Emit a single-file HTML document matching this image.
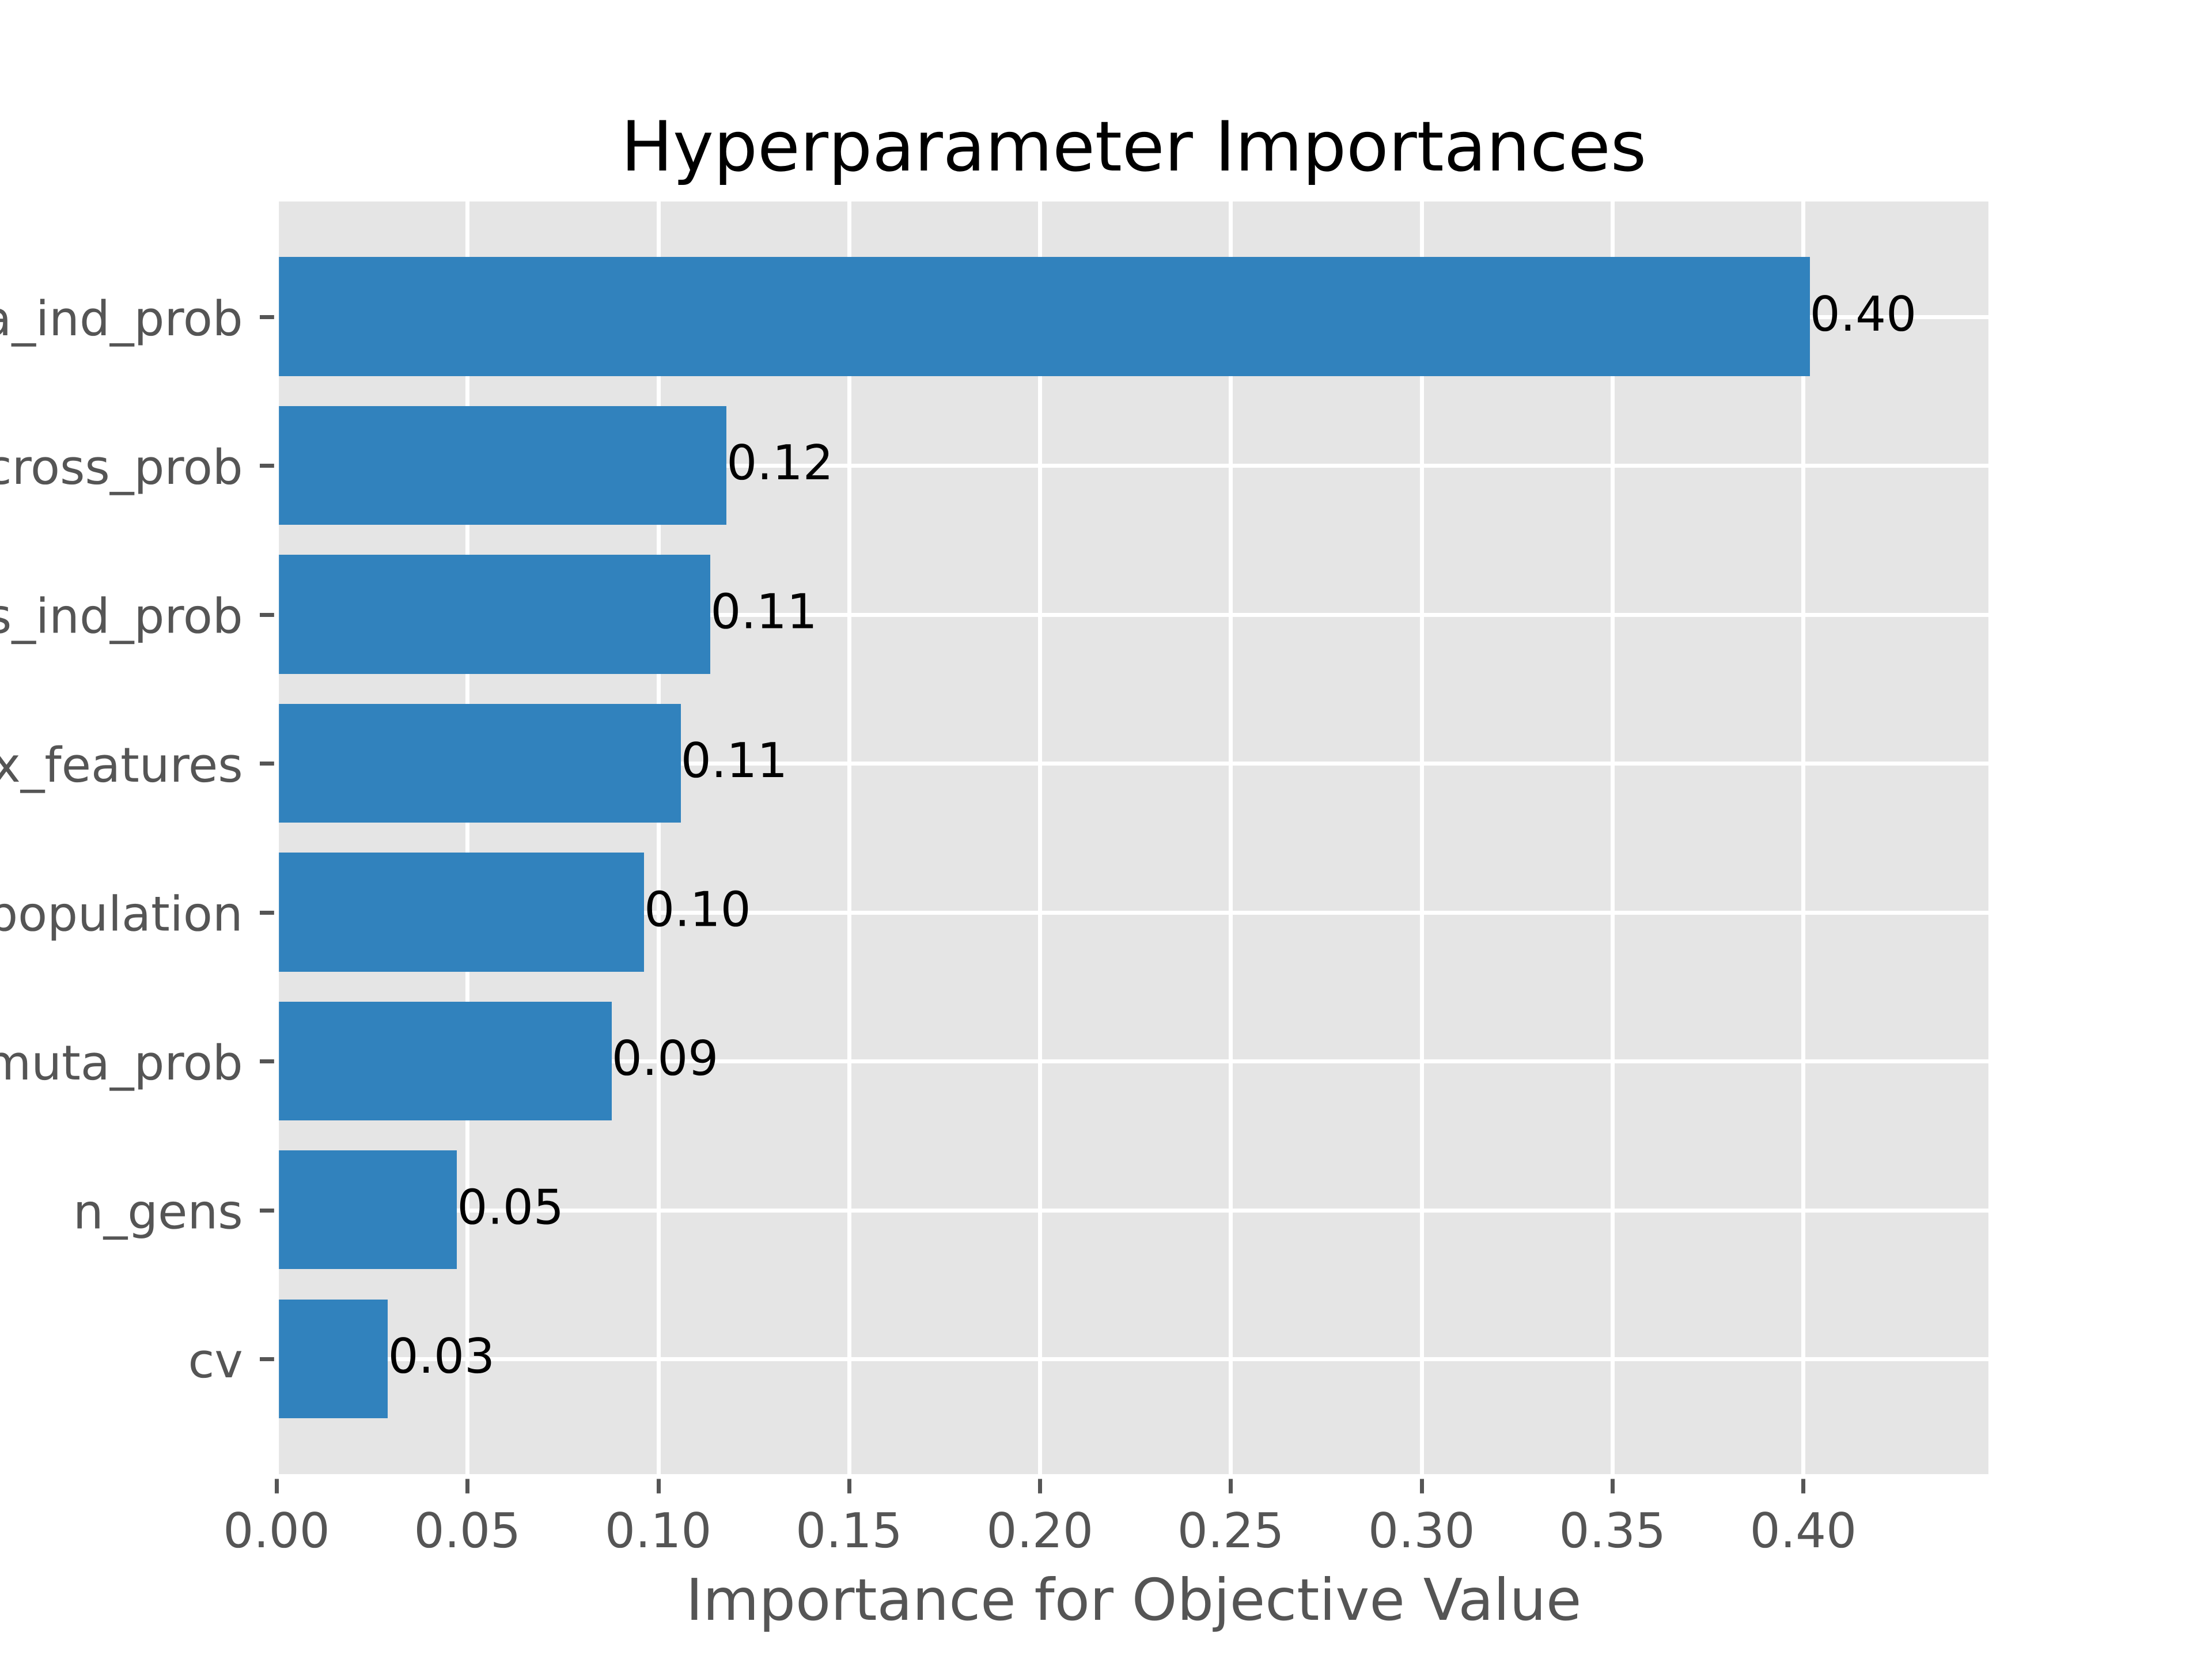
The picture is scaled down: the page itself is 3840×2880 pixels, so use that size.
<!DOCTYPE html>
<html lang="en">
<head>
<meta charset="utf-8">
<title>Hyperparameter Importances</title>
<style>
html,body{margin:0;padding:0;background:#fff;width:3840px;height:2880px;overflow:hidden}
svg{display:block}
text{font-family:"DejaVu Sans","Liberation Sans",sans-serif;text-rendering:geometricPrecision}
</style>
</head>
<body>
<svg id="chart" xmlns="http://www.w3.org/2000/svg" width="3840" height="2880" viewBox="0 0 3840 2880">
  <rect x="0" y="0" width="3840" height="2880" fill="#ffffff"></rect>
  <rect x="480" y="345.6" width="2976" height="2217.6" fill="#E5E5E5"></rect>
  <g id="grid"></g>
  <g id="bars"></g>
  <g id="ticks"></g>
  <g id="spines" fill="none" stroke="#ffffff" stroke-width="8.33">
    <rect x="480" y="345.6" width="2976" height="2217.6"></rect>
  </g>
  <g id="xlabels"></g>
  <g id="ylabels"></g>
  <g id="values"></g>
  <text x="1968" y="296" font-size="120" fill="#000000" text-anchor="middle" letter-spacing="-0.08">Hyperparameter Importances</text>
  <text x="1968" y="2812" font-size="100" fill="#555555" text-anchor="middle">Importance for Objective Value</text>
</svg>
<script>
const categories = ["cv", "n_gens", "muta_prob", "n_population", "max_features", "cross_ind_prob", "cross_prob", "muta_ind_prob"];
const importances = [0.0292, 0.0473, 0.0878, 0.0963, 0.1059, 0.1137, 0.1179, 0.4017];
const valueLabels = ["0.03", "0.05", "0.09", "0.10", "0.11", "0.11", "0.12", "0.40"];
const xTicks = [0, 0.05, 0.10, 0.15, 0.20, 0.25, 0.30, 0.35, 0.40];
const xTickLabels = ["0.00", "0.05", "0.10", "0.15", "0.20", "0.25", "0.30", "0.35", "0.40"];

const NS = "http://www.w3.org/2000/svg";
const plotLeft = 480, plotRight = 3456, plotTop = 345.6, plotBottom = 2563.2;
const xMax = 0.44914;
const barHeight = 0.8;
const yPad = 0.79;
const unit = (plotBottom - plotTop) / (categories.length - 1 + 2 * yPad);
function xScale(v) { return plotLeft + v / xMax * (plotRight - plotLeft); }
function yScale(i) { return plotBottom - (i + yPad) * unit; }
function snap(p) { return Math.round(p) + 0.5; }

function make(tag, attrs, parent) {
  const el = document.createElementNS(NS, tag);
  for (const k in attrs) el.setAttribute(k, attrs[k]);
  parent.appendChild(el);
  return el;
}
const gridG = document.getElementById("grid");
const barsG = document.getElementById("bars");
const ticksG = document.getElementById("ticks");
const xlabelsG = document.getElementById("xlabels");
const ylabelsG = document.getElementById("ylabels");
const valuesG = document.getElementById("values");

xTicks.forEach(function (t, i) {
  const x = xScale(t);
  const sx = snap(x);
  const grid = make("line", {x1: sx, x2: sx, y1: plotTop, y2: plotBottom, stroke: "#ffffff", "stroke-width": 7, "shape-rendering": "crispEdges"}, gridG);
  
  
  const tick = make("line", {x1: sx, x2: sx, y1: plotBottom, y2: plotBottom + 29.2, stroke: "#555555", "stroke-width": 7, "shape-rendering": "crispEdges"}, ticksG);
  
  
  const label = make("text", {x: x, y: 2686, "font-size": 83.33, fill: "#555555", "text-anchor": "middle"}, xlabelsG);
  
  
  label.textContent = xTickLabels[i];
});

categories.forEach(function (c, i) {
  const y = yScale(i);
  const sy = snap(y);
  const grid = make("line", {x1: plotLeft, x2: plotRight, y1: sy, y2: sy, stroke: "#ffffff", "stroke-width": 7, "shape-rendering": "crispEdges"}, gridG);
  
  
  const top = Math.round(y - barHeight / 2 * unit);
  const bottom = Math.floor(y + barHeight / 2 * unit);
  const bar = make("rect", {x: plotLeft, y: top, width: Math.round(xScale(importances[i])) - plotLeft, height: bottom - top, fill: "#3182BD", "shape-rendering": "crispEdges"}, barsG);
  
  
  const tick = make("line", {x1: plotLeft, x2: plotLeft - 29.2, y1: sy, y2: sy, stroke: "#555555", "stroke-width": 7, "shape-rendering": "crispEdges"}, ticksG);
  
  
  const label = make("text", {x: 421.7, y: y + 32, "font-size": 83.33, fill: "#555555", "text-anchor": "end"}, ylabelsG);
  
  
  label.textContent = c;
  const val = make("text", {x: xScale(importances[i]), y: y + 24, "font-size": 83.33, fill: "#000000"}, valuesG);
  
  
  val.textContent = valueLabels[i];
});
</script>
</body>
</html>
